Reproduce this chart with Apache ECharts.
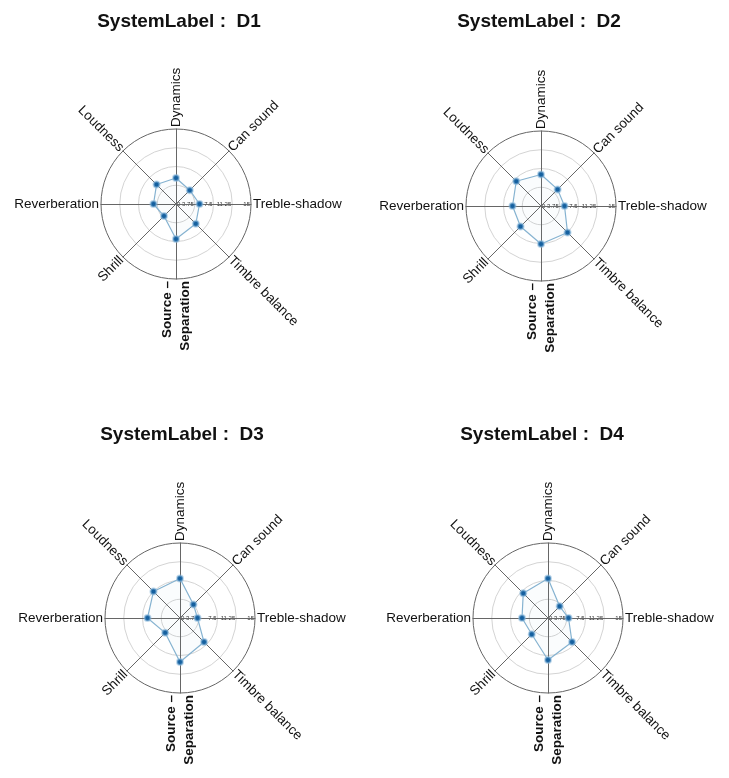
<!DOCTYPE html>
<html lang="en">
<head>
    <title>radar</title>
    <meta charset="utf-8">
</head>
<body style="margin:0;background:#fff">
<script type="text/javascript" src="https://cdn.jsdelivr.net/npm/echarts@6/dist/echarts.min.js"></script>
<div id="main" style="width: 729px;height: 778px"></div>
<script type="text/javascript">
    // indicators, counterclockwise from the top (echarts radar order)
    var dims = ['Dynamics', 'Loudness', 'Reverberation', 'Shrill', 'Source –\nSeparation', 'Timbre balance', 'Treble-shadow', 'Can sound'];
    var systems = ['D1', 'D2', 'D3', 'D4'];
    var d1 = [5.2, 5.5, 4.5, 3.4, 7.0, 5.6, 4.7, 3.9];
    var d2 = [6.3, 7.0, 5.7, 5.8, 7.6, 7.5, 4.7, 4.7];
    var d3 = [7.9, 7.5, 6.5, 4.2, 8.8, 6.8, 3.5, 3.8];
    var d4 = [7.9, 7.0, 5.2, 4.6, 8.4, 6.8, 4.1, 3.3];
    var ticks = [0, 3.75, 7.5, 11.25, 15];
    var values = [d1, d2, d3, d4];

    var maxVal = 15;
    var R = 75;
    var centers = [[176, 204], [541, 206], [180, 618], [548, 618]];
    var titlePos = [[174, 7], [534, 7], [177, 420], [537, 420]];

    var dom = document.getElementById('main');
    var myChart = echarts.init(dom);

    var radars = [], series = [], graphics = [], titles = [];
    for (var k = 0; k < systems.length; k++) {
        var c = centers[k];
        radars.push({
            center: c,
            radius: R,
            shape: 'circle',
            startAngle: 90,
            splitNumber: 4,
            indicator: dims.map(function (n) { return {name: n, min: 0, max: maxVal}; }),
            axisName: {show: false},
            axisLine: {lineStyle: {color: '#666', width: 1}},
            splitLine: {lineStyle: {color: ['#d4d4d4', '#d4d4d4', '#d4d4d4', '#d4d4d4', '#666'], width: 1}},
            splitArea: {show: false}
        });
        series.push({
            type: 'radar',
            radarIndex: k,
            symbol: 'circle',
            symbolSize: 6,
            lineStyle: {color: '#86b3d1', width: 1.2},
            itemStyle: {color: '#15609f', borderColor: 'rgba(140,185,220,0.55)', borderWidth: 2},
            areaStyle: {color: 'rgba(140,185,220,0.06)'},
            data: [{value: values[k], name: systems[k]}]
        });
        titles.push({
            text: 'SystemLabel :  ' + systems[k],
            left: titlePos[k][0],
            top: titlePos[k][1],
            textAlign: 'center',
            textStyle: {fontFamily: 'Liberation Sans', fontSize: 19, fontWeight: 'bold', color: '#111'}
        });
        // axis names, laid out radially
        for (var i = 0; i < dims.length; i++) {
            var a = Math.PI / 2 + i * 2 * Math.PI / dims.length;
            var ca = Math.cos(a), sa = Math.sin(a);
            var gap = 2;
            var rot, align;
            if (Math.abs(ca) < 0.01) {
                rot = Math.PI / 2;
                align = sa > 0 ? 'left' : 'right';
            } else if (ca > 0) {
                rot = Math.atan2(sa, ca);
                align = 'left';
            } else {
                rot = Math.atan2(sa, ca) - Math.PI;
                align = 'right';
            }
            var bold = dims[i].indexOf('Source') === 0;
            graphics.push({
                type: 'text',
                x: c[0] + (R + gap) * ca,
                y: c[1] - (R + gap) * sa,
                rotation: rot,
                style: {
                    text: dims[i],
                    textAlign: align,
                    textVerticalAlign: 'middle',
                    fontFamily: 'Liberation Sans',
                    fontSize: 13.5,
                    fontWeight: bold ? 'bold' : 'normal',
                    lineHeight: 18,
                    fill: '#111'
                }
            });
        }
        // tick labels along the Treble-shadow axis
        for (var t = 0; t < ticks.length; t++) {
            graphics.push({
                type: 'text',
                x: c[0] + ticks[t] / maxVal * R - (t === 0 ? -1 : 1),
                y: c[1],
                style: {
                    text: String(ticks[t]),
                    textAlign: t === 0 ? 'left' : 'right',
                    textVerticalAlign: 'middle',
                    fontFamily: 'Liberation Sans',
                    fontSize: 6,
                    fill: '#333'
                }
            });
        }
    }

    var option = {
        backgroundColor: '#fff',
        animation: false,
        title: titles,
        radar: radars,
        series: series,
        graphic: graphics
    };
    myChart.setOption(option);
</script>
</body>
</html>
